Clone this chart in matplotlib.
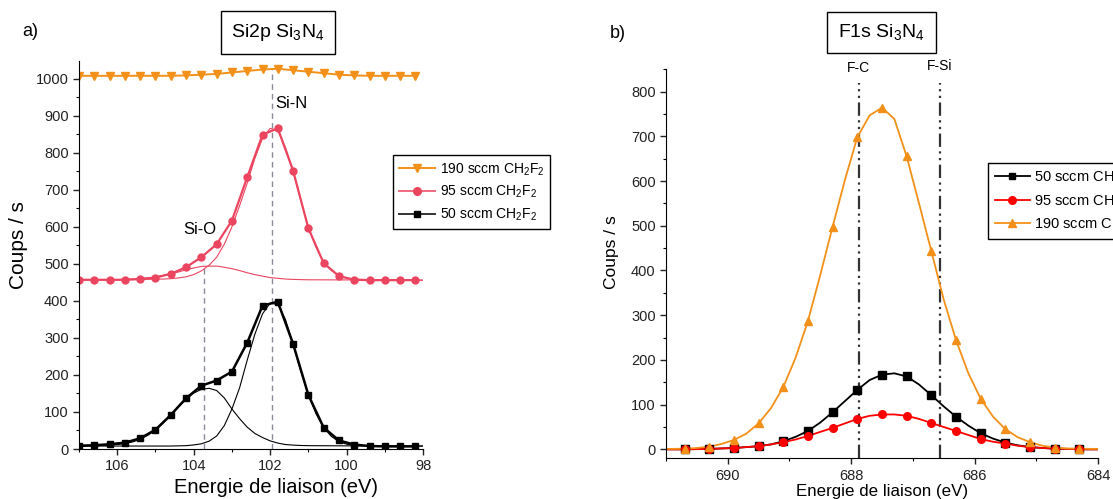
import matplotlib.pyplot as plt
from matplotlib.ticker import MultipleLocator
from matplotlib.lines import Line2D

plt.rcParams['font.family'] = ['Liberation Sans', 'DejaVu Sans']
plt.rcParams['mathtext.fontset'] = 'custom'
plt.rcParams['mathtext.rm'] = 'Liberation Sans'

# --- Si2p (panel a) ---
si2p_energy = [107.0, 106.6, 106.2, 105.8, 105.4, 105.0, 104.6, 104.2, 103.8, 103.4, 103.0, 102.6,
               102.2, 101.8, 101.4, 101.0, 100.6, 100.2, 99.8, 99.4, 99.0, 98.6, 98.2]
si2p_190 = [1008, 1008, 1008, 1008, 1008, 1008, 1008, 1009, 1011, 1013, 1017, 1021,
            1025, 1027, 1023, 1019, 1015, 1011, 1009, 1008, 1008, 1008, 1008]
si2p_95 = [457, 457, 457, 457, 459, 463, 473, 491, 518, 553, 617, 734,
           849, 866, 752, 596, 502, 467, 457, 456, 456, 456, 456]
si2p_50 = [9, 10, 13, 17, 29, 52, 92, 137, 171, 185, 209, 287,
           387, 398, 284, 146, 58, 23, 12, 8, 7, 7, 7]

# fit components
sio50_x = [107.0, 106.4, 106.0, 105.8, 105.6, 105.4, 105.2, 105.0, 104.8, 104.6, 104.4, 104.2, 104.0,
           103.8, 103.6, 103.4, 103.2, 103.0, 102.8, 102.6, 102.4, 102.2, 102.0, 101.8, 101.6,
           101.4, 101.2, 101.0, 100.0, 98.0]
sio50_y = [8.5, 9.5, 12, 15, 19, 26, 37, 51, 70, 91, 113, 134, 151,
           161, 164, 158, 138, 108, 82, 59, 42, 31, 22, 16, 12,
           10.5, 9.5, 9, 8.5, 8]
sin50_x = [107.0, 104.6, 104.2, 104.0, 103.8, 103.6, 103.4, 103.2, 103.0, 102.8, 102.6, 102.4, 102.2,
           102.0, 101.8, 101.6, 101.4, 101.2, 101.0, 100.8, 100.6, 100.4, 100.2, 100.0, 99.8, 99.6, 98.0]
sin50_y = [8, 8, 9, 11, 14, 21, 35, 63, 108, 165, 240, 310, 365,
           394, 390, 350, 283, 211, 146, 95, 58, 34, 20, 13, 10, 9, 8]
sio95_x = [107.0, 106.0, 105.6, 105.4, 105.2, 105.0, 104.8, 104.6, 104.4, 104.2, 104.0, 103.8, 103.6,
           103.4, 103.2, 103.0, 102.8, 102.6, 102.4, 102.2, 102.0, 101.8, 101.6, 101.4, 101.0, 98.0]
sio95_y = [457, 457.5, 459, 460, 462, 465, 469, 473, 478, 484, 489, 493, 494,
           494, 491, 487, 482, 476, 471, 467, 463, 461, 459, 458, 457, 456]
sin95_x = [107.0, 105.4, 104.8, 104.6, 104.4, 104.2, 104.0, 103.8, 103.6, 103.4, 103.2, 103.0, 102.8,
           102.6, 102.4, 102.2, 102.0, 101.8, 101.6, 101.4, 101.2, 101.0, 100.8, 100.6, 100.4,
           100.2, 100.0, 99.8, 99.6, 98.0]
sin95_y = [457, 458, 459, 460, 462, 465, 471, 481, 496, 518, 553, 600, 657,
           718, 785, 839, 866, 860, 815, 750, 672, 600, 545, 505, 482,
           469, 462, 459, 458, 456]
si2p_peaks = [103.73, 101.96]
si2p_peak_tops = [500, 1025]

# --- F1s (panel b) ---
f1s_energy = [690.7, 690.3, 689.9, 689.5, 689.1, 688.7, 688.3, 687.9, 687.5,
              687.1, 686.7, 686.3, 685.9, 685.5, 685.1, 684.7, 684.3]
f1s_50 = [0, 1, 3, 7, 18, 41, 83, 133, 167, 163, 121, 73, 36, 15, 5, 1.5, 0]
f1s_95 = [0, 1, 3, 7, 16, 30, 48, 68, 78, 75, 59, 41, 23, 13, 5, 1.5, 0]
f1s_190 = [1.5, 6, 21, 58, 139, 287, 498, 698, 764, 655, 443, 244, 113, 45, 16, 4, 1.5]

fit_energy = [691.0, 690.9, 690.7, 690.5, 690.3, 690.1, 689.9, 689.7, 689.5, 689.3, 689.1, 688.9,
              688.7, 688.5, 688.3, 688.1, 687.9, 687.7, 687.5, 687.3, 687.1, 686.9, 686.7, 686.5,
              686.3, 686.1, 685.9, 685.7, 685.5, 685.3, 685.1, 684.9, 684.7, 684.5, 684.3, 684.1, 684.0]
fit_50 = [0, 0, 0, 0.5, 1, 2, 3, 5, 7, 11, 18, 28, 41, 60, 83, 108, 133, 155, 167, 170,
          163, 145, 121, 96, 73, 53, 36, 24, 15, 9, 5, 3, 1.5, 1, 0, 0, 0]
fit_95 = [0, 0, 0, 0.5, 1, 2, 3, 5, 7, 11, 16, 22, 30, 39, 48, 58, 68, 75, 78, 78,
          75, 68, 59, 50, 41, 32, 23, 17, 13, 8, 5, 3, 1.5, 1, 0, 0, 0]
fit_190 = [1, 1, 1.5, 3, 6, 12, 21, 35, 58, 92, 139, 205, 287, 390, 498, 603, 698, 747, 764, 739,
           655, 550, 443, 335, 244, 170, 113, 73, 45, 27, 16, 8, 4, 2, 1.5, 1, 1]
f1s_peaks = [687.88, 686.56]
f1s_peak_labels = ['F-C', 'F-Si']

ORANGE = '#F39019'
PINK = '#EB4560'
RED = '#FF0000'
lab190 = '190 sccm CH$_\\mathregular{2}$F$_\\mathregular{2}$'
lab95 = '95 sccm CH$_\\mathregular{2}$F$_\\mathregular{2}$'
lab50 = '50 sccm CH$_\\mathregular{2}$F$_\\mathregular{2}$'

fig = plt.figure(figsize=(11.13, 4.99), dpi=100)
ax1 = fig.add_axes([0.0710, 0.1002, 0.3091, 0.7776])
ax2 = fig.add_axes([0.5984, 0.0816, 0.3881, 0.7796])

for ax in (ax1, ax2):
    ax.spines['top'].set_visible(False)
    ax.spines['right'].set_visible(False)
    ax.tick_params(which='major', direction='out', length=4, width=1, labelsize=10.5, colors='#222222')
    ax.tick_params(which='minor', direction='out', length=2.5, width=0.8)

# panel a
ax1.vlines(si2p_peaks, 0, si2p_peak_tops, colors='#8a8a99', linestyles=(0, (4, 3)), lw=1)
ax1.plot(sio50_x, sio50_y, color='black', lw=0.8)
ax1.plot(sin50_x, sin50_y, color='black', lw=0.8)
ax1.plot(sio95_x, sio95_y, color=PINK, lw=0.8)
ax1.plot(sin95_x, sin95_y, color=PINK, lw=0.8)
ax1.plot(si2p_energy, si2p_50, color='black', lw=1.8, marker='s', ms=4.5)
ax1.plot(si2p_energy, si2p_95, color=PINK, lw=1.6, marker='o', ms=5)
ax1.plot(si2p_energy, si2p_190, color=ORANGE, lw=1.4, marker='v', ms=5.5)
ax1.text(101.87, 934, 'Si-N', fontsize=12, ha='left', va='center')
ax1.text(103.84, 594, 'Si-O', fontsize=12, ha='center', va='center')
ax1.set_xlim(107, 98)
ax1.set_ylim(0, 1048)
ax1.xaxis.set_major_locator(MultipleLocator(2))
ax1.xaxis.set_minor_locator(MultipleLocator(1))
ax1.yaxis.set_major_locator(MultipleLocator(100))
ax1.yaxis.set_minor_locator(MultipleLocator(50))
ax1.set_xlabel('Energie de liaison (eV)', fontsize=14.5)
ax1.xaxis.set_label_coords(0.572, -0.1)
ax1.xaxis.label.set_va('center')
ax1.set_ylabel('Coups / s', fontsize=15)
ax1.yaxis.set_label_coords(-0.177, 0.526)
ax1.yaxis.label.set_va('center')

h1 = [Line2D([], [], color=ORANGE, marker='v', ms=6, lw=1.4),
      Line2D([], [], color='#F06A80', marker='o', mfc=PINK, mec=PINK, ms=5.5, lw=1.4),
      Line2D([], [], color='#333333', marker='s', mfc='black', mec='black', ms=5, lw=1.4)]
leg1 = fig.legend(h1, [lab190, lab95, lab50], loc='upper left', bbox_to_anchor=(0.3531, 0.6894),
                  fontsize=10, frameon=True, fancybox=False, framealpha=1, edgecolor='black',
                  handlelength=2.6, borderpad=0.45, labelspacing=0.45, handletextpad=0.3,
                  borderaxespad=0)
leg1.get_frame().set_linewidth(1)

# panel b
ax2.vlines(f1s_peaks, -20, 820, colors='#333333', linestyles=(0, (6, 2, 1, 2, 1, 2)), lw=1.6)
ax2.plot(fit_energy, fit_50, color='black', lw=1.3)
ax2.plot(fit_energy, fit_95, color=RED, lw=1.3)
ax2.plot(fit_energy, fit_190, color=ORANGE, lw=1.3)
ax2.plot(f1s_energy, f1s_50, ls='none', marker='s', ms=5.5, color='black')
ax2.plot(f1s_energy, f1s_95, ls='none', marker='o', ms=5.5, color=RED)
ax2.plot(f1s_energy, f1s_190, ls='none', marker='^', ms=6, color=ORANGE)
for xp, lab, yp in zip(f1s_peaks, f1s_peak_labels, [852, 857]):
    ax2.text(xp, yp, lab, fontsize=10, ha='center', va='center', clip_on=False)
ax2.set_xlim(691, 684)
ax2.set_ylim(-20, 850)
ax2.xaxis.set_major_locator(MultipleLocator(2))
ax2.xaxis.set_minor_locator(MultipleLocator(1))
ax2.yaxis.set_major_locator(MultipleLocator(100))
ax2.yaxis.set_minor_locator(MultipleLocator(50))
ax2.set_xlabel('Energie de liaison (eV)', fontsize=12.2)
ax2.xaxis.set_label_coords(0.5, -0.085)
ax2.xaxis.label.set_va('center')
ax2.set_ylabel('Coups / s', fontsize=12.5)
ax2.yaxis.set_label_coords(-0.126, 0.529)
ax2.yaxis.label.set_va('center')

h2 = [Line2D([], [], color='black', marker='s', ms=5, lw=1.3),
      Line2D([], [], color=RED, marker='o', ms=5.5, lw=1.3),
      Line2D([], [], color=ORANGE, marker='^', ms=6, lw=1.3)]
leg2 = fig.legend(h2, [lab50, lab95, lab190], loc='upper left', bbox_to_anchor=(0.8877, 0.6733),
                  fontsize=10.5, frameon=True, fancybox=False, framealpha=1, edgecolor='black',
                  handlelength=2.4, borderpad=0.45, labelspacing=0.45, handletextpad=0.3,
                  borderaxespad=0)
leg2.get_frame().set_linewidth(1)

# panel titles
box = dict(boxstyle='square,pad=0.55', fc='white', ec='black', lw=1)
fig.text(0.2498, 0.935, 'Si2p Si$_\\mathregular{3}$N$_\\mathregular{4}$', fontsize=14,
         ha='center', va='center', bbox=box)
fig.text(0.792, 0.935, 'F1s Si$_\\mathregular{3}$N$_\\mathregular{4}$', fontsize=14,
         ha='center', va='center', bbox=box)
fig.text(0.0198, 0.936, 'a)', fontsize=13, ha='left', va='center')
fig.text(0.548, 0.932, 'b)', fontsize=13, ha='left', va='center')

fig.savefig('out.png', dpi=100)
